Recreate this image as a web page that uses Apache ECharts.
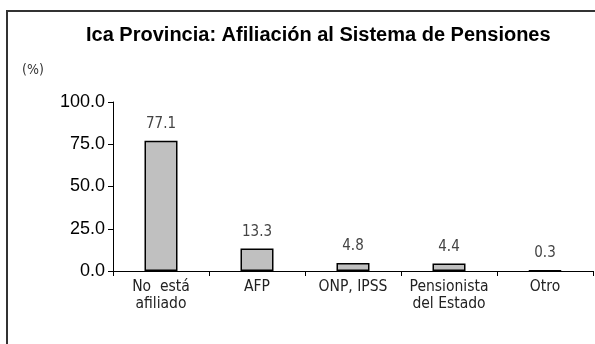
<!DOCTYPE html>
<html>
<head>
<meta charset="utf-8">
<style>
  html, body { margin: 0; padding: 0; background: #ffffff; }
  #chart { width: 595px; height: 344px; }
</style>
<script src="https://cdn.jsdelivr.net/npm/echarts@6/dist/echarts.min.js"></script>
</head>
<body>
<div id="chart"></div>
<script>
// Pension system affiliation shares, Ica province (%)
const categories = ['No  está\nafiliado', 'AFP', 'ONP, IPSS', 'Pensionista\ndel Estado', 'Otro'];
const shares = [77.1, 13.3, 4.8, 4.4, 0.3];
const yTicks = [0, 25, 50, 75, 100];

const condensed = 'DejaVu Sans Condensed, DejaVu Sans, sans-serif';
const arial = 'Liberation Sans, Arial, sans-serif';

const chart = echarts.init(document.getElementById('chart'), null, { renderer: 'canvas' });

chart.setOption({
  animation: false,
  backgroundColor: '#ffffff',
  title: [
    {
      text: 'Ica Provincia: Afiliación al Sistema de Pensiones',
      left: 86,
      top: 25,
      padding: 0,
      textStyle: {
        fontFamily: arial,
        fontSize: 20,
        fontWeight: 'bold',
        color: '#000000'
      }
    },
    {
      text: '(%)',
      left: 22,
      top: 63,
      padding: 0,
      textStyle: {
        fontFamily: condensed,
        fontSize: 14,
        fontWeight: 'normal',
        color: '#333333'
      }
    }
  ],
  graphic: [
    {
      type: 'rect',
      silent: true,
      shape: { x: 7, y: 11, width: 700, height: 500 },
      style: { fill: 'none', stroke: '#333333', lineWidth: 2 }
    }
  ],
  grid: {
    left: 113,
    right: 2,
    top: 102,
    bottom: 73,
    containLabel: false
  },
  xAxis: {
    type: 'category',
    data: categories,
    axisLine: { show: true, lineStyle: { color: '#000000', width: 1 } },
    axisTick: { show: true, alignWithLabel: false, length: 5, lineStyle: { color: '#000000' } },
    axisLabel: {
      interval: 0,
      margin: 7,
      fontFamily: condensed,
      fontSize: 15.5,
      lineHeight: 17,
      color: '#222222'
    },
    splitLine: { show: false }
  },
  yAxis: {
    type: 'value',
    min: yTicks[0],
    max: yTicks[yTicks.length - 1],
    interval: yTicks[1] - yTicks[0],
    axisLine: { show: true, lineStyle: { color: '#000000', width: 1 } },
    axisTick: { show: true, length: 5, lineStyle: { color: '#000000' } },
    axisLabel: {
      margin: 8,
      fontFamily: arial,
      fontSize: 18,
      color: '#000000',
      formatter: v => v.toFixed(1)
    },
    splitLine: { show: false }
  },
  series: [
    {
      type: 'bar',
      data: shares,
      barWidth: 33,
      itemStyle: {
        color: '#c0c0c0',
        borderColor: '#000000',
        borderWidth: 1.5
      },
      label: {
        show: true,
        position: 'top',
        distance: 9,
        fontFamily: condensed,
        fontSize: 15,
        color: '#444444',
        formatter: p => p.value.toFixed(1)
      }
    }
  ]
});
</script>
</body>
</html>
